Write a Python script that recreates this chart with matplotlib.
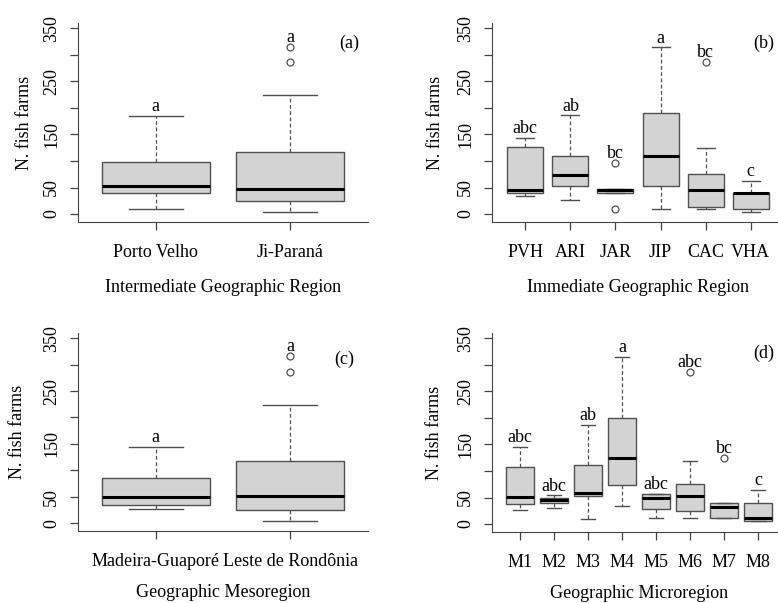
import matplotlib
matplotlib.use('Agg')
import matplotlib.pyplot as plt

plt.rcParams['font.family'] = ['Liberation Serif', 'DejaVu Serif']

# (a) Intermediate Geographic Region
names_a = ['Porto Velho', 'Ji-Paraná']
q1_a = [39, 24]
med_a = [53, 48]
q3_a = [98, 117]
lo_a = [9, 3]
hi_a = [185, 225]
out_a = [[], [287, 315]]
let_a = ['a', 'a']

# (b) Immediate Geographic Region
names_b = ['PVH', 'ARI', 'JAR', 'JIP', 'CAC', 'VHA']
q1_b = [39, 53, 39, 53, 14, 9]
med_b = [46, 73, 45, 109, 46, 39]
q3_b = [127, 110, 48, 191, 75, 40]
lo_b = [34, 26, 39, 10, 9, 3]
hi_b = [144, 186, 48, 314, 124, 63]
out_b = [[], [], [9, 97], [], [287], []]
let_b = ['abc', 'ab', 'bc', 'a', 'bc', 'c']

# (c) Geographic Mesoregion
names_c = ['Madeira-Guaporé', 'Leste de Rondônia']
q1_c = [34, 25]
med_c = [49, 52]
q3_c = [86, 118]
lo_c = [27, 4]
hi_c = [145, 224]
out_c = [[], [287, 316]]
let_c = ['a', 'a']

# (d) Geographic Microregion
names_d = ['M1', 'M2', 'M3', 'M4', 'M5', 'M6', 'M7', 'M8']
q1_d = [37, 39, 52, 74, 29, 25, 11, 6]
med_d = [51, 46, 59, 124, 49, 52, 32, 11]
q3_d = [107, 49, 111, 199, 57, 76, 40, 40]
lo_d = [27, 31, 10, 34, 11, 11, 11, 5]
hi_d = [146, 54, 187, 315, 57, 119, 40, 64]
out_d = [[], [], [], [], [], [287], [124], []]
let_d = ['abc', 'abc', 'ab', 'a', 'abc', 'abc', 'bc', 'c']

W, H = 778, 603
fig = plt.figure(figsize=(W / 100, H / 100), dpi=100)

axcol = '#444444'
boxcol = '#505050'


def panel(rect, names, q1, med, q3, lo, hi, out, letters, xlabel, tag, tagpos,
          ylab_px, xpad):
    l, t, w, h = rect
    ax = fig.add_axes([l / W, 1 - (t + h) / H, w / W, h / H])
    stats = []
    for i in range(len(names)):
        stats.append(dict(q1=q1[i], med=med[i], q3=q3[i], whislo=lo[i], whishi=hi[i],
                          fliers=out[i], label=names[i]))
    n = len(names)
    ax.bxp(stats, widths=0.8, patch_artist=True,
           boxprops=dict(facecolor='#d3d3d3', edgecolor=boxcol, linewidth=1.0),
           medianprops=dict(color='black', linewidth=2.2),
           whiskerprops=dict(color=boxcol, linestyle=(0, (3, 2)), linewidth=0.9),
           capprops=dict(color=boxcol, linewidth=1.0),
           capwidths=0.4,
           flierprops=dict(marker='o', markerfacecolor='none', markeredgecolor=boxcol,
                           markersize=5, markeredgewidth=0.9))
    for i in range(n):
        top = max([hi[i]] + out[i])
        ax.text(i + 1, top + 9, letters[i], ha='center', va='baseline', fontsize=13)
    ax.text(tagpos[0], tagpos[1], tag, ha='center', va='center', fontsize=13)
    ax.set_xlim(0.5 - 0.04 * n, n + 0.5 + 0.04 * n)
    ax.set_ylim(-15, 360)
    ax.set_yticks(range(0, 351, 50))
    ax.set_yticklabels(['0', '50', '', '150', '', '250', '', '350'],
                       rotation=90, va='center')
    ax.spines['top'].set_visible(False)
    ax.spines['right'].set_visible(False)
    ax.spines['left'].set_color(axcol)
    ax.spines['bottom'].set_color(axcol)
    ax.tick_params(axis='both', colors=axcol, length=6, width=0.9, labelsize=13,
                   labelcolor='black')
    ax.tick_params(axis='y', pad=7)
    ax.tick_params(axis='x', pad=10)
    ax.set_xlabel(xlabel, fontsize=13, labelpad=xpad)
    ax.set_ylabel('N. fish farms', fontsize=13)
    ax.yaxis.set_label_coords(-ylab_px / w, 0.5)
    return ax


panel((78, 23, 290, 199), names_a, q1_a, med_a, q3_a, lo_a, hi_a, out_a, let_a,
      'Intermediate Geographic Region', '(a)', (2.44, 322), 45, 13)
panel((492, 23, 292, 199), names_b, q1_b, med_b, q3_b, lo_b, hi_b, out_b, let_b,
      'Immediate Geographic Region', '(b)', (6.3, 322), 48, 13)
panel((78, 333, 290, 198), names_c, q1_c, med_c, q3_c, lo_c, hi_c, out_c, let_c,
      'Geographic Mesoregion', '(c)', (2.40, 311), 52, 10)
panel((492, 333, 294, 199), names_d, q1_d, med_d, q3_d, lo_d, hi_d, out_d, let_d,
      'Geographic Microregion', '(d)', (8.17, 322), 49, 10)

fig.savefig('out.png', dpi=100)
